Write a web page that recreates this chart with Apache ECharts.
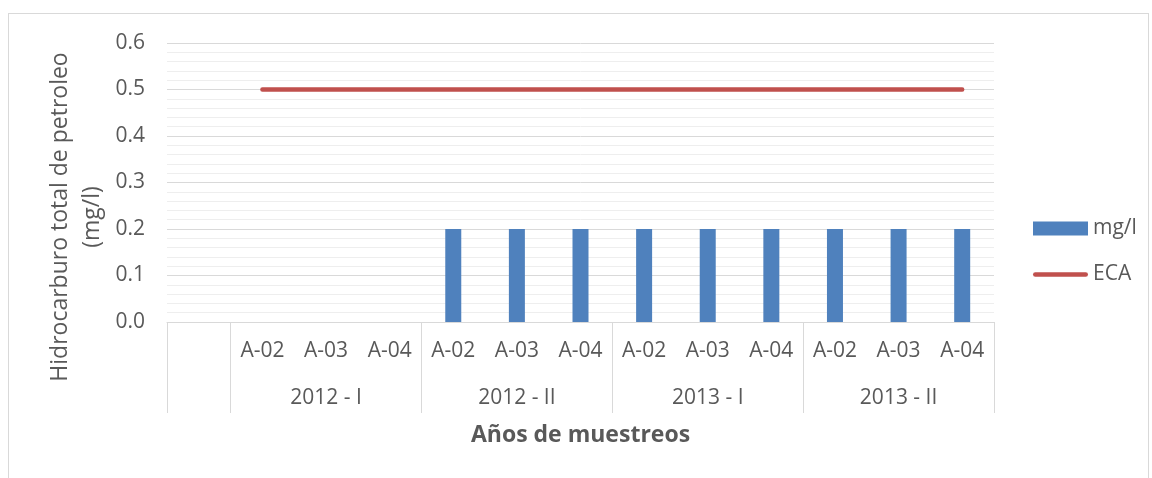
<!DOCTYPE html>
<html>
<head>
<meta charset="utf-8">
<script src="https://cdn.jsdelivr.net/npm/echarts@6/dist/echarts.min.js"></script>
<style>
  html, body { margin: 0; padding: 0; background: #fff; }
  #frame { position: absolute; left: 8px; top: 13px; width: 1141px; height: 470px; border: 1px solid #d9d9d9; box-sizing: border-box; }
  #chart { position: absolute; left: 0; top: 0; width: 1152px; height: 478px; }
</style>
</head>
<body>
<div id="frame"></div>
<div id="chart"></div>
<script>
// ---- data ----
const groups = ['2012 - I', '2012 - II', '2013 - I', '2013 - II'];
const stations = ['A-02', 'A-03', 'A-04'];
const yTicks = ['0.0', '0.1', '0.2', '0.3', '0.4', '0.5', '0.6'];
// first (empty) category followed by 12 station samples
const mgL = [null, 0, 0, 0, 0.2, 0.2, 0.2, 0.2, 0.2, 0.2, 0.2, 0.2, 0.2];
const eca = [null, 0.5, 0.5, 0.5, 0.5, 0.5, 0.5, 0.5, 0.5, 0.5, 0.5, 0.5, 0.5];

// ---- build categories ----
const categories = [''];
groups.forEach(g => stations.forEach(s => categories.push(g + '|' + s)));
const groupBoundaries = [0, 1];
groups.forEach((g, i) => groupBoundaries.push(1 + (i + 1) * stations.length));
const groupMiddle = {};
groups.forEach((g, i) => { groupMiddle[1 + i * stations.length + Math.floor(stations.length / 2)] = g; });

const txt = '#595959';
const font = 'Open Sans';
const fs = 21;
const fsTitle = 23;
const chart = echarts.init(document.getElementById('chart'), null, { renderer: 'canvas' });
chart.setOption({
  animation: false,
  textStyle: { fontFamily: font },
  grid: { left: 167, right: 158, top: 43, bottom: 156, containLabel: false },
  legend: {
    orient: 'vertical', left: 1028, top: 213, itemGap: 25, itemWidth: 55, itemHeight: 14,
    textStyle: { color: txt, fontSize: fs, fontFamily: font },
    data: [
      { name: 'mg/l', icon: 'rect' },
      { name: 'ECA', icon: 'path://M0,0 M55,14 M2.3,4.7 L52.7,4.7 A2.3,2.3 0 0 1 52.7,9.3 L2.3,9.3 A2.3,2.3 0 0 1 2.3,4.7 Z',
        itemStyle: { color: '#c0504d', borderWidth: 0 } }
    ]
  },
  graphic: [{
    type: 'text', x: 76, y: 217, rotation: Math.PI / 2,
    style: {
      text: 'Hidrocarburo total de petroleo\n(mg/l)', fill: txt,
      font: fsTitle + 'px "Open Sans"', align: 'center', verticalAlign: 'middle', lineHeight: 32
    }
  }],
  xAxis: [{
    type: 'category', data: categories, position: 'bottom',
    axisLine: { show: true, lineStyle: { color: '#d9d9d9', width: 1 } },
    axisTick: { show: true, length: 91, lineStyle: { color: '#d9d9d9' },
      interval: (idx) => groupBoundaries.indexOf(idx) >= 0 },
    axisLabel: { interval: 0, margin: 19, color: txt, fontSize: fs, fontFamily: font,
      formatter: (v) => v.split('|')[1] || '' },
    name: 'Años de muestreos', nameLocation: 'middle', nameGap: 102,
    nameTextStyle: { color: txt, fontSize: fsTitle, fontWeight: 'bold', fontFamily: font }
  }, {
    type: 'category', data: categories, position: 'bottom',
    axisLine: { show: false }, axisTick: { show: false }, splitLine: { show: false },
    axisLabel: { interval: 0, margin: 66, color: txt, fontSize: fs, fontFamily: font,
      formatter: (v, idx) => groupMiddle[idx] || '' }
  }],
  yAxis: {
    type: 'value', min: 0, max: 0.6, interval: 0.1,
    axisLine: { show: false }, axisTick: { show: false },
    axisLabel: { color: txt, fontSize: fs, fontFamily: font, margin: 22,
      formatter: (v) => yTicks[Math.round(v * 10)] },
    splitLine: { lineStyle: { color: '#d9d9d9', width: 1 } },
    minorTick: { show: false, splitNumber: 5 },
    minorSplitLine: { show: true, lineStyle: { color: '#eeeeee', width: 1 } }
  },
  series: [{
    name: 'mg/l', type: 'bar', data: mgL, barWidth: 16,
    itemStyle: { color: '#4f81bd' }
  }, {
    name: 'ECA', type: 'line', data: eca, symbol: 'none', showSymbol: false,
    lineStyle: { color: '#c0504d', width: 4.5, cap: 'round' }, itemStyle: { color: '#c0504d' }
  }]
});
</script>
</body>
</html>
